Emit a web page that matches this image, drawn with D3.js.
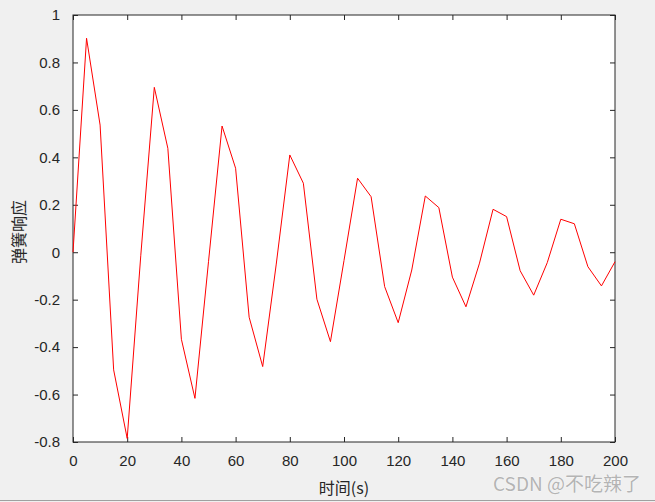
<!DOCTYPE html>
<html><head><meta charset="utf-8">
<script src="https://cdn.jsdelivr.net/npm/d3@7/dist/d3.min.js"></script>
<style>
html,body{margin:0;padding:0;background:#f0f0f0;}
svg{display:block;}
</style></head>
<body>
<script>
const times = [0,5,10,15,20,25,30,35,40,45,50,55,60,65,70,75,80,85,90,95,100,105,110,115,120,125,130,135,140,145,150,155,160,165,170,175,180,185,190,195,200];
const response = [0,0.902,0.536,-0.496,-0.785,-0.015,0.695,0.438,-0.367,-0.616,-0.04,0.532,0.354,-0.274,-0.482,-0.05,0.41,0.291,-0.198,-0.377,-0.035,0.312,0.234,-0.145,-0.297,-0.075,0.237,0.188,-0.105,-0.23,-0.046,0.181,0.15,-0.078,-0.181,-0.044,0.139,0.12,-0.061,-0.142,-0.04];
const xTicks = [0,20,40,60,80,100,120,140,160,180,200];
const yTicks = [-0.8,-0.6,-0.4,-0.2,0,0.2,0.4,0.6,0.8,1];
const xLabel = "时间(s)";
const yLabel = "弹簧响应";
const watermark = "CSDN @不吃辣了";

const W = 655, H = 502;
const L = 73, R = 615, T = 15, B = 442;
const svg = d3.select("body").append("svg").attr("width", W).attr("height", H);
svg.append("rect").attr("width", W).attr("height", H).attr("fill", "#f0f0f0");
svg.append("line").attr("x1",0).attr("x2",W).attr("y1",H-1.5).attr("y2",H-1.5).attr("stroke","#a0a0a0").attr("stroke-width",1);

const x = d3.scaleLinear().domain([0,200]).range([L,R]);
const y = d3.scaleLinear().domain([-0.8,1]).range([B,T]);

svg.append("rect").attr("x",L).attr("y",T).attr("width",R-L).attr("height",B-T).attr("fill","#fff");

const font = "'Liberation Sans', Arial, sans-serif";
const tickCol = "#262626";

function styleAxis(g){
  g.select(".domain").remove();
  g.selectAll(".tick line").attr("stroke", tickCol).attr("stroke-width", 1);
  g.selectAll(".tick text").attr("fill", tickCol).attr("font-family", font).attr("font-size", 15);
}

const gB = svg.append("g").attr("transform",`translate(0,${B})`)
  .call(d3.axisBottom(x).tickValues(xTicks).tickSize(-5).tickPadding(13).tickFormat(d => String(d)));
styleAxis(gB);
const gT = svg.append("g").attr("transform",`translate(0,${T})`)
  .call(d3.axisTop(x).tickValues(xTicks).tickSize(-5).tickFormat(""));
styleAxis(gT);
const gL = svg.append("g").attr("transform",`translate(${L},0)`)
  .call(d3.axisLeft(y).tickValues(yTicks).tickSize(-5).tickPadding(13).tickFormat(d => String(+d.toFixed(1))));
styleAxis(gL);
const gR = svg.append("g").attr("transform",`translate(${R},0)`)
  .call(d3.axisRight(y).tickValues(yTicks).tickSize(-5).tickFormat(""));
styleAxis(gR);

svg.append("rect").attr("x",L).attr("y",T).attr("width",R-L).attr("height",B-T)
  .attr("fill","none").attr("stroke",tickCol).attr("stroke-width",1);

const line = d3.line().x((d,i)=>x(times[i])).y(d=>y(d));
svg.append("path").datum(response).attr("d", line)
  .attr("fill","none").attr("stroke","#ff0000").attr("stroke-width",1);

svg.append("text").attr("x",(L+R)/2).attr("y",494).attr("text-anchor","middle")
  .attr("font-family","'Noto Sans CJK SC', sans-serif").attr("font-size",16).attr("fill",tickCol).text(xLabel);
svg.append("text").attr("transform",`translate(25,232) rotate(-90)`).attr("text-anchor","middle")
  .attr("font-family","'Noto Sans CJK SC', sans-serif").attr("font-size",16).attr("fill",tickCol).text(yLabel);

svg.append("text").attr("x",641).attr("y",491).attr("text-anchor","end")
  .attr("font-family","'Noto Sans CJK SC', 'Liberation Sans', sans-serif").attr("font-size",19)
  .attr("fill","#b4b4b4").attr("stroke","#ffffff").attr("stroke-width",0.6).attr("paint-order","stroke").text(watermark);
</script>
</body></html>
